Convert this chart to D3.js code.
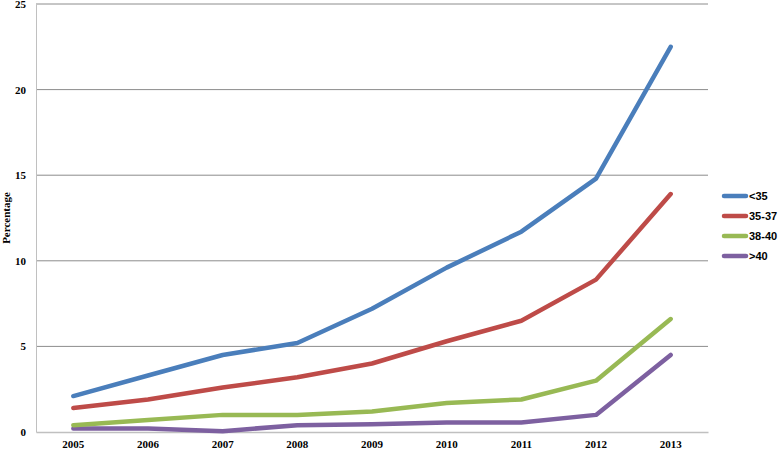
<!DOCTYPE html>
<html>
<head>
<meta charset="utf-8">
<script src="https://cdn.jsdelivr.net/npm/d3@7"></script>
<style>
  body { margin: 0; background: #fff; }
  svg text { font-family: "Liberation Serif", "DejaVu Serif", serif; font-weight: bold; }
  svg .legend text { font-family: "Liberation Sans", Arial, sans-serif; }
</style>
</head>
<body>
<div id="chart"></div>
<script>
const years = ["2005", "2006", "2007", "2008", "2009", "2010", "2011", "2012", "2013"];
const under35 = [2.1, 3.3, 4.5, 5.2, 7.2, 9.6, 11.7, 14.8, 22.5];
const from35to37 = [1.4, 1.9, 2.6, 3.2, 4.0, 5.3, 6.5, 8.9, 13.9];
const from38to40 = [0.4, 0.7, 1.0, 1.0, 1.2, 1.7, 1.9, 3.0, 6.6];
const over40 = [0.2, 0.2, 0.05, 0.4, 0.45, 0.55, 0.55, 1.0, 4.5];
const seriesNames = ["<35", "35-37", "38-40", ">40"];
const yTicks = [0, 5, 10, 15, 20, 25];

const seriesValues = [under35, from35to37, from38to40, over40];
const colors = ["#4a7ebb", "#be4b48", "#98b954", "#7d60a0"];

const width = 778, height = 450;
const margin = {top : 4, right : 70, bottom : 18, left : 36};

const svg = d3.select("#chart").append("svg")
                .attr("width", width)
                .attr("height", height);

const x = d3.scaleBand()
              .domain(years)
              .range([ margin.left, width - margin.right ]);

const y = d3.scaleLinear()
              .domain([ 0, 25 ])
              .range([ height - margin.bottom, margin.top ]);

// Gridlines
svg.append("g")
    .selectAll("line")
    .data(yTicks.filter(d => d > 0))
    .join("line")
    .attr("x1", margin.left)
    .attr("x2", width - margin.right)
    .attr("y1", d => y(d))
    .attr("y2", d => y(d))
    .attr("stroke", "#8c8c8c")
    .attr("stroke-width", 1);

// Y axis
const yAxis = svg.append("g")
    .attr("transform", `translate(${margin.left},0)`)
    .call(d3.axisLeft(y).tickValues(yTicks).tickSize(0).tickPadding(10));
yAxis.select(".domain").attr("stroke", "#c0c0c0");
yAxis.selectAll("text").attr("font-size", 11).attr("fill", "#000");

// X axis
const xAxis = svg.append("g")
    .attr("transform", `translate(0,${height - margin.bottom})`)
    .call(d3.axisBottom(x).tickSize(0).tickPadding(8));
xAxis.select(".domain").attr("stroke", "#c0c0c0").attr("stroke-width", 1.5);
xAxis.selectAll("text").attr("font-size", 11).attr("fill", "#000");

svg.append("text")
    .attr("transform", `translate(10,${(margin.top + height - margin.bottom) / 2}) rotate(-90)`)
    .attr("text-anchor", "middle")
    .attr("font-size", 11)
    .text("Percentage");

const line = d3.line()
                 .x((d, i) => x(years[i]) + x.bandwidth() / 2)
                 .y(d => y(d));

// Draw lower series first so <35 sits on top
seriesValues.slice().reverse().forEach((vals, j) => {
  const k = seriesValues.length - 1 - j;
  svg.append("path")
      .datum(vals)
      .attr("d", line)
      .attr("fill", "none")
      .attr("stroke", colors[k])
      .attr("stroke-width", 4.5)
      .attr("stroke-linecap", "round")
      .attr("stroke-linejoin", "round");
});

// Legend
const legend = svg.append("g")
    .attr("class", "legend")
    .selectAll("g")
    .data(seriesNames)
    .join("g")
    .attr("transform", (d, i) => `translate(724,${196 + i * 20})`);

legend.append("line")
    .attr("x1", 0)
    .attr("x2", 22)
    .attr("stroke", (d, i) => colors[i])
    .attr("stroke-width", 4.5)
    .attr("stroke-linecap", "round");

legend.append("text")
    .attr("x", 25)
    .attr("dy", "0.35em")
    .attr("font-size", 11)
    .text(d => d);
</script>
</body>
</html>
